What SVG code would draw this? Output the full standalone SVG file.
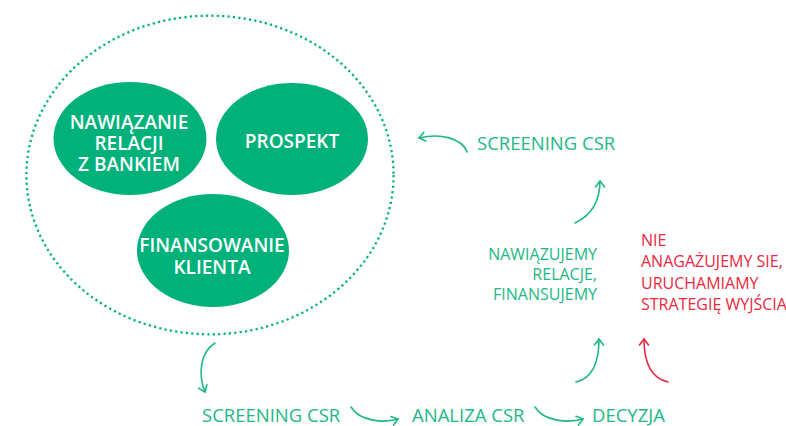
<svg xmlns="http://www.w3.org/2000/svg" width="786" height="426" viewBox="0 0 786 426">
<defs>
<style>
.bubble{fill:#00b27a}
.wl{font-family:"Open Sans","Noto Sans","DejaVu Sans",sans-serif;font-weight:600;font-size:19px;fill:#ffffff;text-anchor:middle}
.gt{font-family:"Open Sans","Noto Sans","DejaVu Sans",sans-serif;font-size:18.5px;fill:#1db886}
.gs{font-family:"Open Sans","Noto Sans","DejaVu Sans",sans-serif;font-size:16px;fill:#1db886}
.rs{font-family:"Open Sans","Noto Sans","DejaVu Sans",sans-serif;font-size:16px;fill:#e9283f}
.arr{fill:none;stroke:#1db886;stroke-width:1.6;stroke-linecap:round}
.arr-r{fill:none;stroke:#e9283f;stroke-width:1.6;stroke-linecap:round}
</style>
<marker id="ah" markerUnits="userSpaceOnUse" markerWidth="14" markerHeight="14" refX="0" refY="0" viewBox="-8 -7 10 14" orient="auto">
<path d="M-6,-4.5 L0,0 L-6,4.5" fill="none" stroke="#1db886" stroke-width="1.6" stroke-linecap="round" stroke-linejoin="round"/>
</marker>
<marker id="ahr" markerUnits="userSpaceOnUse" markerWidth="14" markerHeight="14" refX="0" refY="0" viewBox="-8 -7 10 14" orient="auto">
<path d="M-6,-4.5 L0,0 L-6,4.5" fill="none" stroke="#e9283f" stroke-width="1.6" stroke-linecap="round" stroke-linejoin="round"/>
</marker>
</defs>
<rect width="786" height="426" fill="#ffffff"/>

<g id="group-circle">
<ellipse cx="210" cy="175" rx="183.6" ry="159.3" fill="none" stroke="#00b27a" stroke-width="2.3" stroke-dasharray="2.2 3.2"/>
</g>

<g id="node-nawiazanie">
<ellipse class="bubble" cx="130" cy="138.5" rx="76.5" ry="56.5"/>
<text class="wl" x="129" y="128.5">NAWIĄZANIE</text>
<text class="wl" x="129" y="150">RELACJI</text>
<text class="wl" x="129" y="171">Z BANKIEM</text>
</g>

<g id="node-prospekt">
<ellipse class="bubble" cx="292" cy="139" rx="76" ry="56"/>
<text class="wl" x="292" y="148">PROSPEKT</text>
</g>

<g id="node-finansowanie">
<ellipse class="bubble" cx="213" cy="250.5" rx="76" ry="56.5"/>
<text class="wl" x="212" y="252">FINANSOWANIE</text>
<text class="wl" x="212" y="274">KLIENTA</text>
</g>

<g id="node-screening-top">
<text class="gt" x="477" y="150">SCREENING CSR</text>
</g>

<g id="node-screening-bottom">
<text class="gt" x="202" y="422">SCREENING CSR</text>
</g>

<g id="node-analiza">
<text class="gt" x="412" y="422">ANALIZA CSR</text>
</g>

<g id="node-decyzja">
<text class="gt" x="592" y="422">DECYZJA</text>
</g>

<g id="node-yes">
<text class="gs" x="597" y="260" text-anchor="end">NAWIĄZUJEMY</text>
<text class="gs" x="597" y="280" text-anchor="end">RELACJE,</text>
<text class="gs" x="597" y="300" text-anchor="end">FINANSUJEMY</text>
</g>

<g id="node-no">
<text class="rs" x="641" y="246">NIE</text>
<text class="rs" x="641" y="267">ANAGAŻUJEMY SIE,</text>
<text class="rs" x="641" y="289">URUCHAMIAMY</text>
<text class="rs" x="641" y="310">STRATEGIĘ WYJŚCIA</text>
</g>

<g id="connectors">
<path class="arr" d="M215,343 C200,352 198,375 205,392" marker-end="url(#ah)"/>
<path class="arr" d="M351,407 C360,422 385,423 398,419" marker-end="url(#ah)"/>
<path class="arr" d="M535,407 C544,422 569,423 583,419" marker-end="url(#ah)"/>
<path class="arr" d="M576,382 C594,378 599,360 599,339" marker-end="url(#ah)"/>
<path class="arr-r" d="M668,382 C650,378 644,360 644,339" marker-end="url(#ahr)"/>
<path class="arr" d="M575,223 C592,215 600,200 600,181" marker-end="url(#ah)"/>
<path class="arr" d="M467,152 C462,138 440,133 419,138" marker-end="url(#ah)"/>
</g>
</svg>
